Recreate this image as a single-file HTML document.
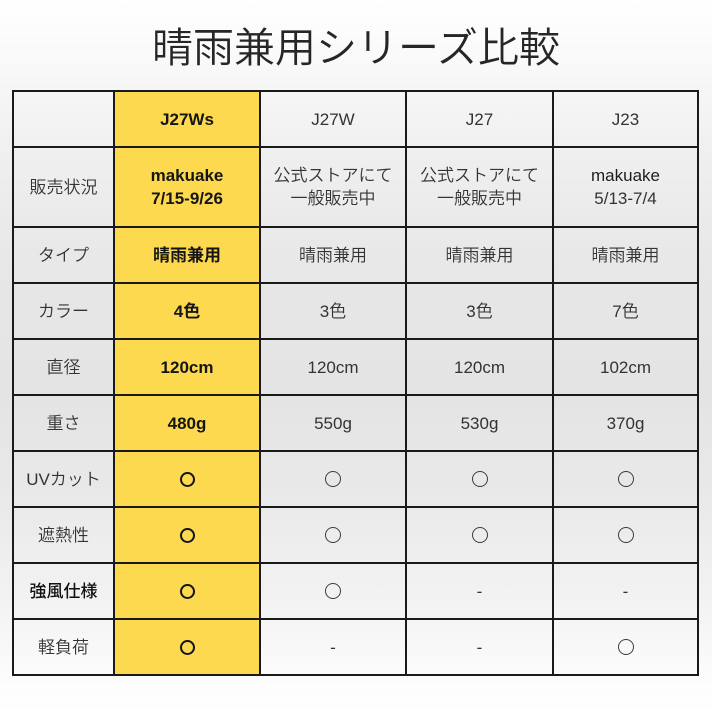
<!DOCTYPE html>
<html><head><meta charset="utf-8">
<style>
html,body{margin:0;padding:0;}
body{width:712px;height:712px;position:relative;overflow:hidden;
background:linear-gradient(to bottom,#ffffff 0%,#f8f8f8 10%,#efefef 22%,#e7e7e7 38%,#e4e4e4 55%,#e9e9e9 70%,#f3f3f3 85%,#fcfcfc 95%,#ffffff 100%);
font-family:"Liberation Sans","Noto Sans CJK JP",sans-serif;}
.t{position:absolute;left:0;width:712px;top:22px;text-align:center;font-size:41px;line-height:52px;color:#262626;font-family:"Liberation Sans","Noto Sans CJK JP",sans-serif;font-weight:350;letter-spacing:0px;}
.y{position:absolute;left:114px;top:91px;width:146px;height:584px;background:#fdd94f;}
.c{position:absolute;display:flex;align-items:center;justify-content:center;flex-direction:column;text-align:center;font-size:17px;line-height:23px;color:#333;font-weight:350;}
.b{font-weight:700;color:#151515;}
.v{position:absolute;width:2px;background:#1a1a1a;top:90px;height:586px;}
.h{position:absolute;height:2px;background:#1a1a1a;left:12px;width:687px;}
.o{box-sizing:border-box;border-radius:50%;}
.ob{width:15px;height:15px;border:2.5px solid #151515;}
.on{width:16px;height:16px;border:1.4px solid #3c3c3c;}
</style></head><body>
<div class="t">晴雨兼用シリーズ比較</div>
<div class="y"></div>

<div class="v" style="left:12px"></div>
<div class="v" style="left:113px"></div>
<div class="v" style="left:259px"></div>
<div class="v" style="left:405px"></div>
<div class="v" style="left:552px"></div>
<div class="v" style="left:697px"></div>
<div class="h" style="top:90px"></div>
<div class="h" style="top:146px"></div>
<div class="h" style="top:226px"></div>
<div class="h" style="top:282px"></div>
<div class="h" style="top:338px"></div>
<div class="h" style="top:394px"></div>
<div class="h" style="top:450px"></div>
<div class="h" style="top:506px"></div>
<div class="h" style="top:562px"></div>
<div class="h" style="top:618px"></div>
<div class="h" style="top:674px"></div>

<div class="c b" style="left:114px;top:91px;width:146px;height:56px">J27Ws</div>
<div class="c" style="left:260px;top:91px;width:146px;height:56px">J27W</div>
<div class="c" style="left:406px;top:91px;width:147px;height:56px">J27</div>
<div class="c" style="left:553px;top:91px;width:145px;height:56px">J23</div>

<div class="c" style="left:13px;top:147px;width:101px;height:80px">販売状況</div>
<div class="c b" style="left:114px;top:147px;width:146px;height:80px"><div>makuake</div><div>7/15-9/26</div></div>
<div class="c" style="left:260px;top:147px;width:146px;height:80px"><div>公式ストアにて</div><div>一般販売中</div></div>
<div class="c" style="left:406px;top:147px;width:147px;height:80px"><div>公式ストアにて</div><div>一般販売中</div></div>
<div class="c" style="left:553px;top:147px;width:145px;height:80px"><div style="color:#1e1e1e;font-weight:400">makuake</div><div>5/13-7/4</div></div>

<div class="c" style="left:13px;top:227px;width:101px;height:56px">タイプ</div>
<div class="c b" style="left:114px;top:227px;width:146px;height:56px">晴雨兼用</div>
<div class="c" style="left:260px;top:227px;width:146px;height:56px">晴雨兼用</div>
<div class="c" style="left:406px;top:227px;width:147px;height:56px">晴雨兼用</div>
<div class="c" style="left:553px;top:227px;width:145px;height:56px">晴雨兼用</div>

<div class="c" style="left:13px;top:283px;width:101px;height:56px">カラー</div>
<div class="c b" style="left:114px;top:283px;width:146px;height:56px">4色</div>
<div class="c" style="left:260px;top:283px;width:146px;height:56px">3色</div>
<div class="c" style="left:406px;top:283px;width:147px;height:56px">3色</div>
<div class="c" style="left:553px;top:283px;width:145px;height:56px">7色</div>

<div class="c" style="left:13px;top:339px;width:101px;height:56px">直径</div>
<div class="c b" style="left:114px;top:339px;width:146px;height:56px">120cm</div>
<div class="c" style="left:260px;top:339px;width:146px;height:56px">120cm</div>
<div class="c" style="left:406px;top:339px;width:147px;height:56px">120cm</div>
<div class="c" style="left:553px;top:339px;width:145px;height:56px">102cm</div>

<div class="c" style="left:13px;top:395px;width:101px;height:56px">重さ</div>
<div class="c b" style="left:114px;top:395px;width:146px;height:56px">480g</div>
<div class="c" style="left:260px;top:395px;width:146px;height:56px">550g</div>
<div class="c" style="left:406px;top:395px;width:147px;height:56px">530g</div>
<div class="c" style="left:553px;top:395px;width:145px;height:56px">370g</div>

<div class="c" style="left:13px;top:451px;width:101px;height:56px">UVカット</div>
<div class="c" style="left:114px;top:451px;width:146px;height:56px"><div class="o ob"></div></div>
<div class="c" style="left:260px;top:451px;width:146px;height:56px"><div class="o on"></div></div>
<div class="c" style="left:406px;top:451px;width:147px;height:56px"><div class="o on"></div></div>
<div class="c" style="left:553px;top:451px;width:145px;height:56px"><div class="o on"></div></div>

<div class="c" style="left:13px;top:507px;width:101px;height:56px">遮熱性</div>
<div class="c" style="left:114px;top:507px;width:146px;height:56px"><div class="o ob"></div></div>
<div class="c" style="left:260px;top:507px;width:146px;height:56px"><div class="o on"></div></div>
<div class="c" style="left:406px;top:507px;width:147px;height:56px"><div class="o on"></div></div>
<div class="c" style="left:553px;top:507px;width:145px;height:56px"><div class="o on"></div></div>

<div class="c" style="left:13px;top:563px;width:101px;height:56px;color:#111;font-weight:500">強風仕様</div>
<div class="c" style="left:114px;top:563px;width:146px;height:56px"><div class="o ob"></div></div>
<div class="c" style="left:260px;top:563px;width:146px;height:56px"><div class="o on"></div></div>
<div class="c" style="left:406px;top:563px;width:147px;height:56px">-</div>
<div class="c" style="left:553px;top:563px;width:145px;height:56px">-</div>

<div class="c" style="left:13px;top:619px;width:101px;height:56px">軽負荷</div>
<div class="c" style="left:114px;top:619px;width:146px;height:56px"><div class="o ob"></div></div>
<div class="c" style="left:260px;top:619px;width:146px;height:56px">-</div>
<div class="c" style="left:406px;top:619px;width:147px;height:56px">-</div>
<div class="c" style="left:553px;top:619px;width:145px;height:56px"><div class="o on"></div></div>
</body></html>
